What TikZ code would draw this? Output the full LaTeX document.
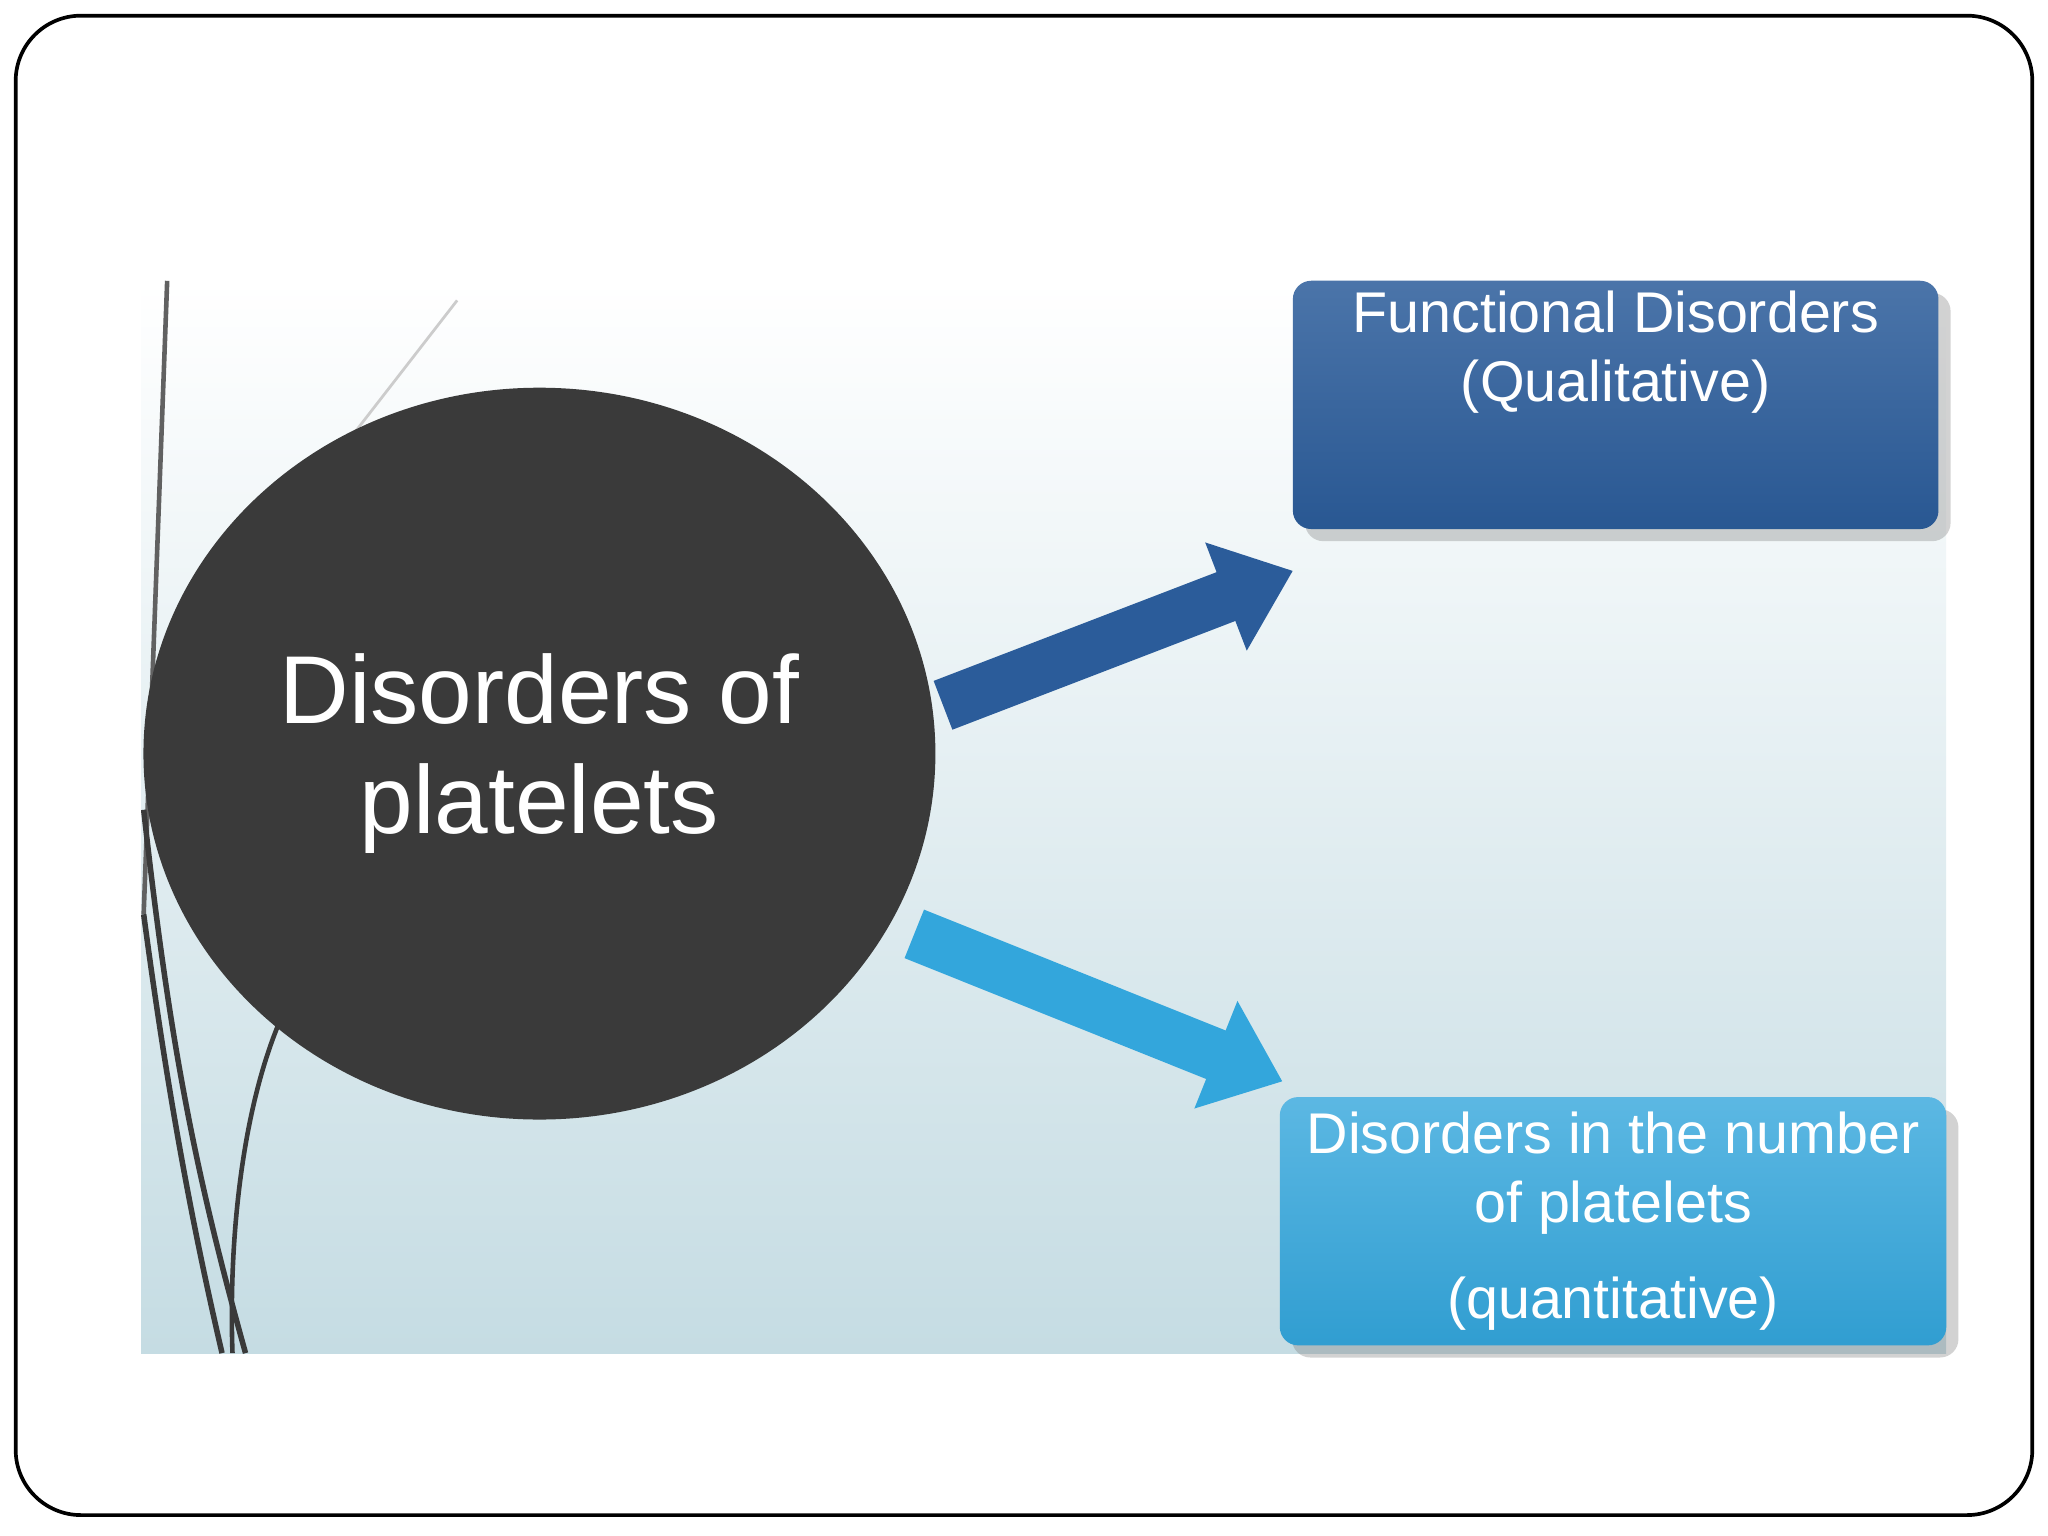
\documentclass[tikz,border=0pt]{standalone}
\usepackage{fontspec}
\setmainfont{Liberation Sans}
\usetikzlibrary{arrows.meta,shapes.geometric,shadows}
\definecolor{circ}{HTML}{3A3A3A}
\definecolor{dblue}{HTML}{2B5C9A}
\definecolor{lblue}{HTML}{33A6DC}
\definecolor{bgb}{HTML}{C5DCE3}
\begin{document}
\begin{tikzpicture}[x=0.01cm,y=-0.01cm,
  box/.style={draw=none,rounded corners=4pt,text=white,align=center,inner sep=1pt,font=\fontsize{12.5}{15}\selectfont,drop shadow={opacity=0.35}},
  arr/.style={line width=0.4cm,-{Triangle[width=0.85cm,length=0.55cm]}}]
\useasboundingbox (0,0) rectangle (1568,1176);
\fill[white] (0,0) rectangle (1568,1176);
\draw[line width=0.8pt,rounded corners=0.5cm] (12,12) rectangle (1556,1160);
\shade[top color=white,bottom color=bgb] (108,215) rectangle (1490,1036);
% decorative lines
\begin{scope}
\clip (108,215) rectangle (1490,1036);
\draw[circ!80,line width=1pt] (128,215) -- (110,700);
\draw[circ,line width=1.2pt] (110,620) .. controls (130,800) and (150,900) .. (188,1036);
\draw[circ,line width=1.2pt] (110,700) .. controls (130,850) and (150,950) .. (170,1036);
\draw[circ,line width=1pt] (215,780) .. controls (185,850) and (175,950) .. (178,1036);
\draw[gray!40,line width=0.6pt] (350,230) -- (125,520);
\end{scope}
\node[ellipse,fill=circ,inner sep=0pt,minimum width=6.06cm,minimum height=5.6cm,text=white,align=center,
  font=\fontsize{21}{24}\selectfont] (c) at (413,577) {Disorders of\\platelets};
\node[box,minimum width=4.94cm,minimum height=1.9cm,text depth=0.9cm,
  top color=dblue!85!white,bottom color=dblue!95!black] (q) at (1237,310) {Functional Disorders\\(Qualitative)};
\node[box,minimum width=5.1cm,minimum height=1.9cm,top color=lblue!80!white,bottom color=lblue!95!black,
  font=\fontsize{12.5}{15}\selectfont] (n) at (1235,935) {Disorders in the number\\of platelets\\[6pt](quantitative)};
\coordinate (a1s) at (722,540);
\coordinate (a1e) at (990,437);
\coordinate (a2s) at (700,715);
\coordinate (a2e) at (982,828);
\draw[arr,dblue] (a1s) -- (a1e);
\draw[arr,lblue] (a2s) -- (a2e);
\end{tikzpicture}
\end{document}
